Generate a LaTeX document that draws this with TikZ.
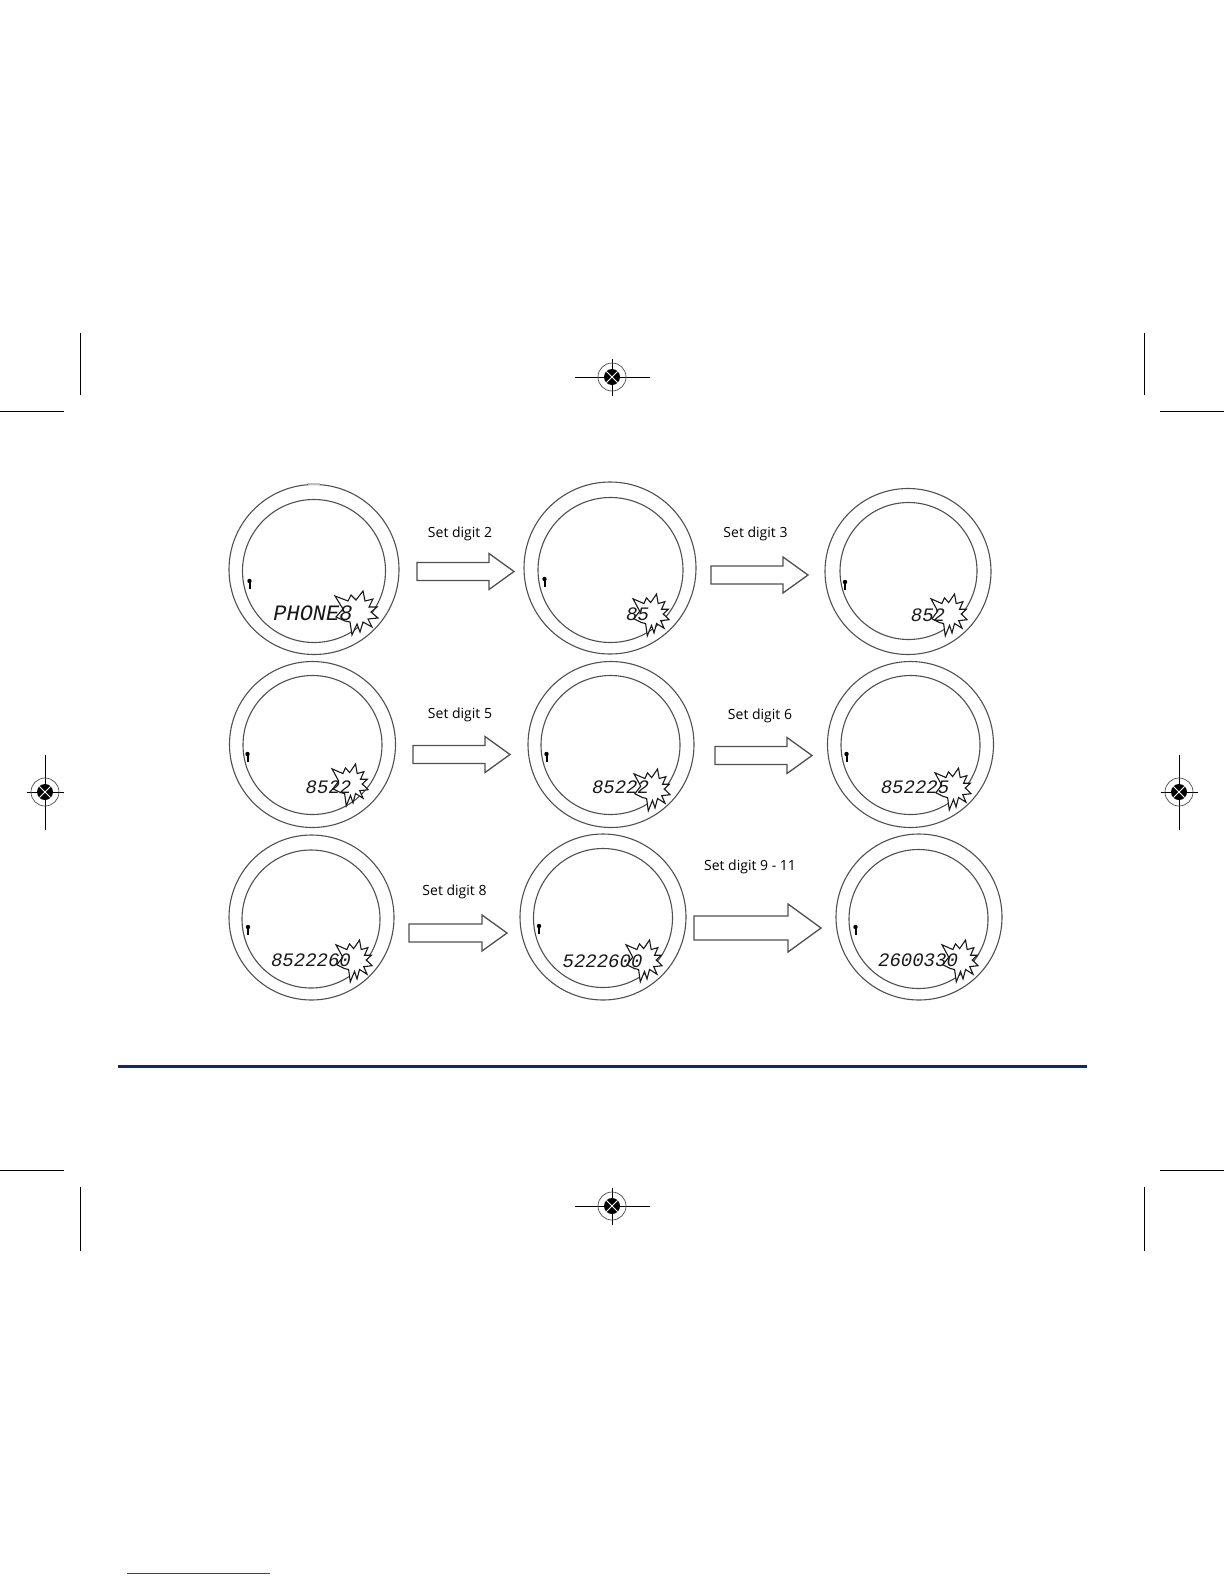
\documentclass[tikz,border=0pt]{standalone}
\usepackage{fontspec}
\setmainfont{Open Sans}
\newfontfamily\lcdfont{Liberation Mono}
\definecolor{ringcol}{HTML}{505050}
\definecolor{rulecol}{HTML}{0B2A6B}
\definecolor{footcol}{HTML}{2A3F9A}
\tikzset{
  ring/.style={draw=ringcol,line width=1.1pt},
  blockarrow/.style={draw=ringcol,line width=1.3pt,line join=miter,fill=white},
  burst/.style={draw=black!90,line width=1.1pt,line join=miter,fill=white},
  caption/.style={font=\fontsize{14}{16}\selectfont,text=black,inner sep=0pt},
  lcd/.style={font=\lcdfont\itshape\fontsize{19}{20}\selectfont,text=black!90,inner sep=0pt},
  crop/.style={draw=black,line width=0.8pt},
  keyicon/.style={draw=black,line width=2pt},
}
\newcommand{\watchface}[6]{% outer cx,cy,r ; inner cx,cy,r
  \draw[ring] (#1,#2) circle[radius=#3pt];
  \draw[ring] (#4,#5) circle[radius=#6pt];
}
\newcommand{\burstat}[2]{%
  \begin{scope}[shift={(#1,#2)},xscale=0.84,yscale=0.95]
  \draw[burst] (-25,-16)--(-12,-11)--(-9,-17)--(-4,-12)--(3,-21)--(5,-11)--(13,-13)--(9,-5)--(17,-5)--(11,0)--(18,6)--(8,7)--(12,15)--(3,10)--(0,20)--(-3,12)--(-8,23)--(-10,10)--(-15,9)--(-24,5)--(-17,-3)--cycle;
  \end{scope}}
\newcommand{\bigburstat}[2]{%
  \begin{scope}[shift={(#1,#2)}]
  \draw[burst] (-25,-16)--(-12,-11)--(-9,-17)--(-4,-12)--(3,-21)--(5,-11)--(13,-13)--(9,-5)--(17,-5)--(11,0)--(18,6)--(8,7)--(12,15)--(3,10)--(0,20)--(-3,12)--(-8,23)--(-10,10)--(-15,9)--(-24,5)--(-17,-3)--cycle;
  \end{scope}}
\newcommand{\antenna}[2]{%
  \draw[keyicon] (#1,#2-2)--(#1,#2+5);
  \fill[black] (#1,#2-3) circle[radius=2.2pt];
}
% x0, y, head base, tip, shaft half, head half
\newcommand{\blockarr}[6]{%
  \draw[blockarrow] (#1,#2-#5)--(#3,#2-#5)--(#3,#2-#6)--(#4,#2)--(#3,#2+#6)--(#3,#2+#5)--(#1,#2+#5)--cycle;
}
\newcommand{\regmark}[4]{%
  \draw[crop] (#1-#3,#2)--(#1+#3,#2);
  \draw[crop] (#1,#2-#4)--(#1,#2+#4);
  \draw[draw=black!70,line width=0.7pt] (#1,#2) circle[radius=14pt];
  \fill[black] (#1,#2) circle[radius=8pt];
  \draw[white,line width=0.9pt] (#1-5.6,#2-5.6)--(#1+5.6,#2+5.6) (#1-5.6,#2+5.6)--(#1+5.6,#2-5.6);
}
\begin{document}
\begin{tikzpicture}[x=1pt,y=-1pt]
\useasboundingbox (0,0) rectangle (1224,1584);
\fill[white] (0,0) rectangle (1224,1584);

% crop marks
\draw[crop] (80,333)--(80,395) (1144,333)--(1144,395);
\draw[crop] (0,411)--(64,411) (1160,411)--(1224,411);
\draw[crop] (0,1170)--(64,1170) (1160,1170)--(1224,1170);
\draw[crop] (80,1187)--(80,1251) (1144,1187)--(1144,1251);
\regmark{612}{377}{37.5}{18.5}
\regmark{612}{1206}{37.5}{18.5}
\regmark{45}{792}{18.5}{37.5}
\regmark{1179}{792}{18.5}{37.5}

% rules
\draw[rulecol,line width=3pt] (118,1066)--(1087,1066);
\draw[footcol,line width=1pt] (127,1573.5)--(270,1573.5);

% watch faces
\watchface{314}{569.5}{85}{314}{571}{71.5}
\draw[black!25,line width=1.5pt] (308,484)--(320,484);
\watchface{610}{568}{86}{610.5}{570}{72.5}
\watchface{908}{571.5}{83}{908.5}{571}{68.5}
\watchface{312.5}{744.5}{83}{312.5}{745}{69.5}
\watchface{611}{744.5}{83}{610.5}{745}{69.5}
\watchface{910.5}{744.5}{83}{910.5}{745}{69.5}
\watchface{311.5}{917.5}{82.5}{311}{919}{69}
\watchface{603}{917}{83}{603}{918}{69.5}
\watchface{919}{917}{83}{918.5}{919}{69.5}

% antenna icons
\antenna{249.5}{584}
\antenna{544.5}{582}
\antenna{845}{585}
\antenna{247.5}{757}
\antenna{546.5}{757}
\antenna{846.5}{757}
\antenna{248}{930}
\antenna{539}{929}
\antenna{855.5}{930}

% flashing bursts
\bigburstat{360}{612}
\burstat{654}{614}
\burstat{952}{614}
\burstat{353}{784}
\burstat{655}{789}
\burstat{956}{788}
\burstat{357}{960}
\burstat{647}{960}
\burstat{963}{960}

% display text
\node[lcd,font=\lcdfont\itshape\fontsize{22}{24}\selectfont] (t1) at (313,613) {PHONE8};
\node[lcd] (t2) at (637.5,614) {85};
\node[lcd] (t3) at (928,615) {852};
\node[lcd] (t4) at (328.5,787) {8522};
\node[lcd] (t5) at (620.5,787) {85222};
\node[lcd] (t6) at (915,787) {852225};
\node[lcd] (t7) at (311,960) {8522260};
\node[lcd] (t8) at (602.5,961) {5222600};
\node[lcd] (t9) at (918,960) {2600330};

% block arrows
\blockarr{417}{571.5}{489}{514}{9}{18}
\blockarr{711}{575}{783}{808}{9}{18}
\blockarr{413}{754.5}{485}{510}{9}{18}
\blockarr{715}{755.5}{787}{812}{9}{18}
\blockarr{409}{933}{482}{507}{9}{18}
\blockarr{694}{928}{788}{821}{12}{24}

% captions
\node[caption] (c1) at (460,533.5) {Set digit 2};
\node[caption] (c2) at (755.5,533.5) {Set digit 3};
\node[caption] (c3) at (460,714.5) {Set digit 5};
\node[caption] (c4) at (760,715.5) {Set digit 6};
\node[caption] (c5) at (454.5,891.5) {Set digit 8};
\node[caption] (c6) at (750,866.5) {Set digit 9 - 11};
\end{tikzpicture}
\end{document}
